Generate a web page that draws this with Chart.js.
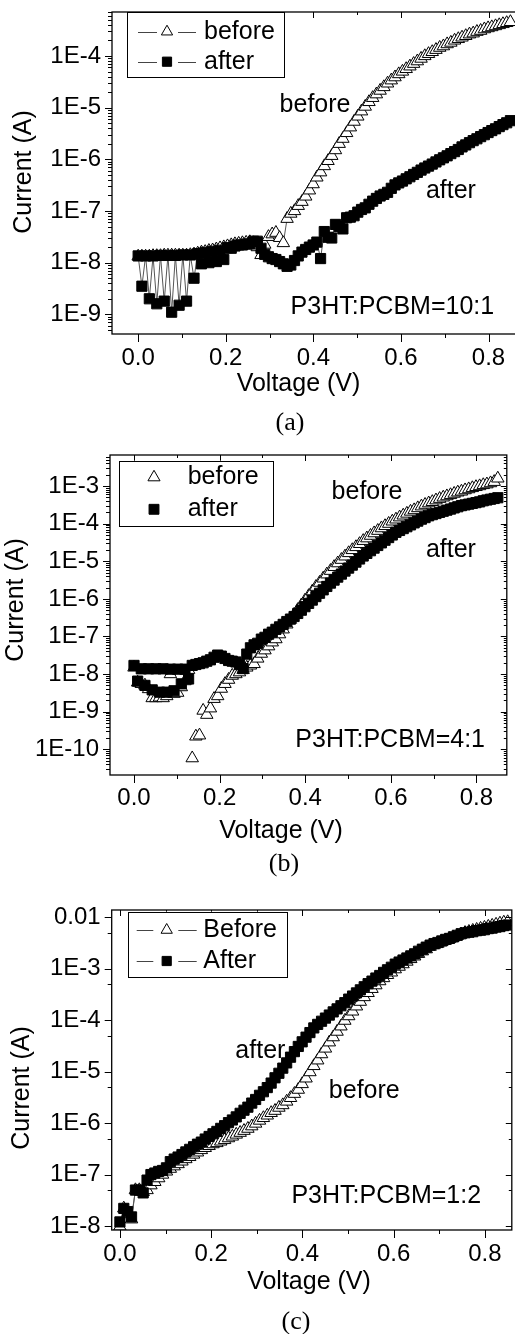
<!DOCTYPE html>
<html><head><meta charset="utf-8">
<script src="https://cdn.jsdelivr.net/npm/chart.js@4.4.1/dist/chart.umd.min.js"></script>
<style>
html,body{margin:0;padding:0;background:#fff;overflow:hidden;width:515px;height:1334px;}
#wrap{position:relative;width:515px;height:1334px;overflow:hidden;background:#fff;}
#wrap canvas{position:absolute;left:0;}
.cap{position:absolute;font-family:"Liberation Serif","Times New Roman",serif;font-size:26px;line-height:26px;color:#000;transform:translateX(-50%);white-space:nowrap;}
</style></head><body>
<div id="wrap">
<canvas id="ca" width="530" height="440" style="top:0px"></canvas>
<canvas id="cb" width="515" height="440" style="top:440px"></canvas>
<canvas id="cc" width="520" height="454" style="top:880px"></canvas>
<div class="cap" style="left:290px;top:409px">(a)</div>
<div class="cap" style="left:284px;top:850px">(b)</div>
<div class="cap" style="left:296px;top:1308px">(c)</div>
</div>
<script>
// ---------- data ----------
const voltage = [0,0.0085,0.017,0.0255,0.034,0.0425,0.051,0.0595,0.068,0.0765,
0.085,0.0935,0.102,0.1105,0.119,0.1275,0.136,0.1445,0.153,0.1615,
0.17,0.1785,0.187,0.1955,0.204,0.2125,0.221,0.2295,0.238,0.2465,
0.255,0.2635,0.272,0.2805,0.289,0.2975,0.306,0.3145,0.323,0.3315,
0.34,0.3485,0.357,0.3655,0.374,0.3825,0.391,0.3995,0.408,0.4165,
0.425,0.4335,0.442,0.4505,0.459,0.4675,0.476,0.4845,0.493,0.5015,
0.51,0.5185,0.527,0.5355,0.544,0.5525,0.561,0.5695,0.578,0.5865,
0.595,0.6035,0.612,0.6205,0.629,0.6375,0.646,0.6545,0.663,0.6715,
0.68,0.6885,0.697,0.7055,0.714,0.7225,0.731,0.7395,0.748,0.7565,
0.765,0.7735,0.782,0.7905,0.799,0.8075,0.816,0.8245,0.833,0.8415,
0.85];

// (a) P3HT:PCBM=10:1
const beforeA = [1.32e-8,1.32e-8,1.32e-8,1.32e-8,1.35e-8,1.35e-8,1.35e-8,1.38e-8,1.38e-8,1.38e-8,
1.38e-8,1.38e-8,1.38e-8,1.38e-8,1.41e-8,1.45e-8,1.51e-8,1.58e-8,1.62e-8,1.70e-8,
1.74e-8,1.82e-8,1.91e-8,2.00e-8,2.09e-8,2.19e-8,2.29e-8,2.34e-8,2.40e-8,2.45e-8,
2.51e-8,2.40e-8,2.00e-8,1.41e-8,2.24e-8,3.16e-8,3.55e-8,3.80e-8,3.02e-8,2.40e-8,
7.08e-8,8.91e-8,1.00e-7,1.26e-7,1.51e-7,1.91e-7,2.51e-7,3.31e-7,4.47e-7,5.62e-7,
7.41e-7,9.33e-7,1.17e-6,1.51e-6,2.00e-6,2.51e-6,3.24e-6,4.17e-6,5.37e-6,6.76e-6,
8.51e-6,1.05e-5,1.29e-5,1.55e-5,1.82e-5,2.14e-5,2.51e-5,2.95e-5,3.39e-5,3.89e-5,
4.47e-5,5.01e-5,5.62e-5,6.31e-5,7.08e-5,7.94e-5,8.91e-5,1.00e-4,1.10e-4,1.20e-4,
1.32e-4,1.45e-4,1.55e-4,1.70e-4,1.82e-4,2.00e-4,2.14e-4,2.29e-4,2.45e-4,2.63e-4,
2.75e-4,2.95e-4,3.09e-4,3.31e-4,3.47e-4,3.63e-4,3.80e-4,3.98e-4,4.17e-4,4.37e-4,
4.57e-4];
const afterA = [1.35e-8,3.5e-9,1.35e-8,2.0e-9,1.35e-8,1.6e-9,1.38e-8,1.8e-9,1.38e-8,1.1e-9,
1.38e-8,1.5e-9,1.41e-8,1.8e-9,1.41e-8,5.0e-9,1.5e-8,9.5e-9,1.58e-8,1.0e-8,
1.66e-8,1.05e-8,1.74e-8,1.15e-8,1.95e-8,1.9e-8,2.1e-8,2.2e-8,2.2e-8,2.3e-8,
2.3e-8,2.6e-8,2.6e-8,1.9e-8,1.45e-8,1.3e-8,1.2e-8,1.15e-8,1.05e-8,9.5e-9,
8.5e-9,9.0e-9,1.1e-8,1.35e-8,1.6e-8,1.8e-8,2.0e-8,2.2e-8,2.5e-8,1.2e-8,
4.0e-8,3.1e-8,3.0e-8,5.5e-8,5.0e-8,4.5e-8,7.4e-8,7.6e-8,8.1e-8,9.5e-8,
1.07e-7,1.15e-7,1.35e-7,1.55e-7,1.75e-7,1.95e-7,2.1e-7,2.3e-7,2.75e-7,3.2e-7,
3.5e-7,3.8e-7,4.2e-7,4.6e-7,5.1e-7,5.6e-7,6.2e-7,6.8e-7,7.4e-7,8.1e-7,
8.9e-7,9.8e-7,1.07e-6,1.17e-6,1.29e-6,1.41e-6,1.55e-6,1.74e-6,1.9e-6,2.1e-6,
2.3e-6,2.5e-6,2.75e-6,3.0e-6,3.3e-6,3.6e-6,3.9e-6,4.3e-6,4.7e-6,5.1e-6,
5.6e-6];

// (b) P3HT:PCBM=4:1
const beforeB = [1.5e-8,6.0e-9,5.5e-9,5.0e-9,4.0e-9,2.3e-9,2.3e-9,2.4e-9,2.3e-9,2.6e-9,
1.0e-8,3.0e-9,3.2e-9,4.5e-9,6.5e-9,1.3e-8,5.8e-11,2.2e-10,2.35e-10,1.07e-9,
8.3e-10,1.23e-9,2.2e-9,2.6e-9,4.1e-9,5.5e-9,7.1e-9,9.1e-9,1.0e-8,1.12e-8,
1.3e-8,1.5e-8,1.7e-8,1.86e-8,2.6e-8,3.5e-8,4.3e-8,5.5e-8,7.0e-8,8.5e-8,
1.15e-7,1.55e-7,2.1e-7,2.8e-7,3.8e-7,5.1e-7,6.8e-7,9.1e-7,1.2e-6,1.58e-6,
2.1e-6,2.7e-6,3.5e-6,4.5e-6,5.6e-6,7.1e-6,8.9e-6,1.1e-5,1.35e-5,1.66e-5,
2.0e-5,2.4e-5,2.9e-5,3.5e-5,4.1e-5,4.8e-5,5.6e-5,6.5e-5,7.6e-5,8.7e-5,
1.0e-4,1.15e-4,1.3e-4,1.48e-4,1.66e-4,1.86e-4,2.1e-4,2.3e-4,2.6e-4,2.9e-4,
3.2e-4,3.5e-4,3.8e-4,4.2e-4,4.6e-4,5.0e-4,5.4e-4,5.8e-4,6.3e-4,6.8e-4,
7.2e-4,7.8e-4,8.3e-4,8.9e-4,9.5e-4,1.0e-3,1.07e-3,1.12e-3,1.2e-3,1.3e-3,
1.6e-3];
const afterB = [1.7e-8,6.5e-9,1.38e-8,5.0e-9,1.38e-8,3.8e-9,1.38e-8,3.3e-9,1.38e-8,3.3e-9,
1.35e-8,3.6e-9,1.35e-8,5.5e-9,1.35e-8,7.4e-9,1.7e-8,1.8e-8,1.9e-8,2.0e-8,
2.2e-8,2.4e-8,2.8e-8,3.2e-8,3.0e-8,2.6e-8,2.3e-8,2.2e-8,2.1e-8,1.8e-8,
1.4e-8,3.4e-8,5.0e-8,6.0e-8,6.6e-8,8.5e-8,9.5e-8,1.15e-7,1.3e-7,1.55e-7,
1.8e-7,2.1e-7,2.5e-7,2.9e-7,3.4e-7,4.1e-7,5.0e-7,6.2e-7,7.6e-7,9.3e-7,
1.15e-6,1.41e-6,1.74e-6,2.14e-6,2.63e-6,3.16e-6,3.8e-6,4.57e-6,5.5e-6,6.6e-6,
7.9e-6,9.5e-6,1.15e-5,1.38e-5,1.62e-5,1.91e-5,2.24e-5,2.63e-5,3.09e-5,3.63e-5,
4.27e-5,5.0e-5,5.9e-5,6.6e-5,7.4e-5,8.3e-5,9.3e-5,1.05e-4,1.17e-4,1.32e-4,
1.45e-4,1.62e-4,1.74e-4,1.86e-4,2.0e-4,2.14e-4,2.29e-4,2.45e-4,2.63e-4,2.82e-4,
3.02e-4,3.16e-4,3.31e-4,3.47e-4,3.63e-4,3.8e-4,4.07e-4,4.27e-4,4.47e-4,4.68e-4,
4.9e-4];

// (c) P3HT:PCBM=1:2
const beforeC = [9.8e-9,2.2e-8,1.7e-8,1.35e-8,5.0e-8,5.0e-8,4.6e-8,5.0e-8,6.2e-8,7.2e-8,
8.5e-8,1.0e-7,1.15e-7,1.3e-7,1.45e-7,1.6e-7,1.8e-7,2.0e-7,2.2e-7,2.45e-7,
2.7e-7,3.0e-7,3.3e-7,3.6e-7,3.9e-7,4.1e-7,4.4e-7,4.7e-7,5.1e-7,5.5e-7,
6.0e-7,6.5e-7,7.1e-7,7.8e-7,8.7e-7,9.8e-7,1.12e-6,1.26e-6,1.41e-6,1.58e-6,
1.74e-6,2.0e-6,2.24e-6,2.63e-6,3.09e-6,3.72e-6,4.47e-6,5.75e-6,7.4e-6,9.8e-6,
1.29e-5,1.66e-5,2.19e-5,2.82e-5,3.72e-5,4.68e-5,6.0e-5,7.6e-5,9.8e-5,1.2e-4,
1.48e-4,1.86e-4,2.29e-4,2.82e-4,3.39e-4,4.07e-4,4.79e-4,5.75e-4,6.6e-4,7.6e-4,
8.5e-4,9.8e-4,1.1e-3,1.23e-3,1.38e-3,1.55e-3,1.74e-3,1.95e-3,2.19e-3,2.4e-3,
2.69e-3,2.88e-3,3.09e-3,3.31e-3,3.55e-3,3.8e-3,4.07e-3,4.37e-3,4.68e-3,5.0e-3,
5.25e-3,5.5e-3,5.75e-3,6.03e-3,6.3e-3,6.6e-3,6.9e-3,7.24e-3,7.6e-3,7.94e-3,
8.1e-3];
const afterC = [1.2e-8,2.2e-8,1.9e-8,1.5e-8,5.0e-8,5.0e-8,4.4e-8,7.8e-8,1.0e-7,1.07e-7,
1.15e-7,1.2e-7,1.35e-7,1.78e-7,2.0e-7,2.19e-7,2.45e-7,2.75e-7,3.09e-7,3.47e-7,
3.89e-7,4.27e-7,4.9e-7,5.5e-7,6.2e-7,6.9e-7,7.9e-7,8.9e-7,1.02e-6,1.15e-6,
1.32e-6,1.55e-6,1.78e-6,2.04e-6,2.45e-6,2.88e-6,3.47e-6,4.07e-6,4.9e-6,6.0e-6,
7.6e-6,9.3e-6,1.17e-5,1.48e-5,1.91e-5,2.45e-5,3.09e-5,3.8e-5,4.68e-5,5.75e-5,
7.08e-5,8.3e-5,9.55e-5,1.1e-4,1.26e-4,1.45e-4,1.66e-4,1.91e-4,2.19e-4,2.57e-4,
2.95e-4,3.39e-4,3.89e-4,4.47e-4,5.13e-4,5.75e-4,6.6e-4,7.4e-4,8.5e-4,9.55e-4,
1.07e-3,1.23e-3,1.35e-3,1.48e-3,1.62e-3,1.78e-3,1.95e-3,2.19e-3,2.4e-3,2.63e-3,
2.88e-3,3.09e-3,3.24e-3,3.47e-3,3.72e-3,3.89e-3,4.17e-3,4.47e-3,4.79e-3,5.0e-3,
5.13e-3,5.25e-3,5.5e-3,5.62e-3,5.75e-3,6.03e-3,6.17e-3,6.46e-3,6.6e-3,6.9e-3,
7.08e-3];

// ticks
const xTickValues = [0, 0.2, 0.4, 0.6, 0.8];
const xMinorValues = [0.1, 0.3, 0.5, 0.7];
const yTicksA = [1e-9, 1e-8, 1e-7, 1e-6, 1e-5, 1e-4];
const yLabelsA = ['1E-9', '1E-8', '1E-7', '1E-6', '1E-5', '1E-4'];
const yTicksB = [1e-10, 1e-9, 1e-8, 1e-7, 1e-6, 1e-5, 1e-4, 1e-3];
const yLabelsB = ['1E-10', '1E-9', '1E-8', '1E-7', '1E-6', '1E-5', '1E-4', '1E-3'];
const yTicksC = [1e-8, 1e-7, 1e-6, 1e-5, 1e-4, 1e-3, 1e-2];
const yLabelsC = ['1E-8', '1E-7', '1E-6', '1E-5', '1E-4', '1E-3', '0.01'];

// ---------- drawing ----------
const FONT = '"Liberation Sans", Arial, Helvetica, sans-serif';

function markerPath(ctx, style, x, y, r) {
  ctx.beginPath();
  if (style === 'triangle') {
    ctx.moveTo(x, y - r);
    ctx.lineTo(x + r * Math.cos(Math.PI / 6), y + r / 2);
    ctx.lineTo(x - r * Math.cos(Math.PI / 6), y + r / 2);
    ctx.closePath();
  } else {
    const s = Math.SQRT1_2 * r;
    ctx.rect(x - s, y - s, 2 * s, 2 * s);
  }
}

const decor = {
  id: 'decor',
  afterDraw(chart, args, o) {
    const ctx = chart.ctx, a = chart.chartArea, xs = chart.scales.x, ys = chart.scales.y;
    ctx.save();
    ctx.strokeStyle = '#000';
    ctx.lineWidth = 1;
    ctx.beginPath();
    const xt = xTickValues.map(v => ({v, major: true})).concat(xMinorValues.map(v => ({v, major: false})));
    xt.forEach(t => {
      const p = Math.round(xs.getPixelForValue(t.v)) + 0.5;
      const lb = t.major ? 8 : 4, lt = t.major ? 6 : 3;
      ctx.moveTo(p, a.bottom); ctx.lineTo(p, a.bottom + lb);
      ctx.moveTo(p, a.top); ctx.lineTo(p, a.top + lt);
    });
    const lo = Math.floor(Math.log10(ys.min)), hi = Math.ceil(Math.log10(ys.max));
    for (let d = lo; d <= hi; d++) {
      const mults = [1].concat(o.minorMult);
      mults.forEach(m => {
        const v = m * Math.pow(10, d);
        if (v < ys.min || v > ys.max) return;
        const p = Math.round(ys.getPixelForValue(v)) + 0.5;
        const major = m === 1;
        const ll = major ? 7 : 4, lr = major ? 6 : 3;
        ctx.moveTo(a.left, p); ctx.lineTo(a.left - ll, p);
        ctx.moveTo(a.right, p); ctx.lineTo(a.right - lr, p);
      });
    }
    ctx.stroke();
    ctx.lineWidth = 1.3;
    ctx.strokeRect(a.left, a.top, a.right - a.left, a.bottom - a.top);

    ctx.fillStyle = '#000';
    ctx.font = '25px ' + FONT;
    ctx.textAlign = 'center';
    ctx.textBaseline = 'alphabetic';
    ctx.fillText(o.xTitle.text, o.xTitle.x, o.xTitle.y);
    ctx.save();
    ctx.translate(o.yTitle.x, o.yTitle.y);
    ctx.rotate(-Math.PI / 2);
    ctx.textBaseline = 'middle';
    ctx.fillText(o.yTitle.text, 0, 0);
    ctx.restore();

    ctx.textAlign = 'left';
    ctx.textBaseline = 'middle';
    o.notes.forEach(n => {
      ctx.fillText(n.text, xs.getPixelForValue(n.x), ys.getPixelForValue(n.y));
    });

    const L = o.legend;
    ctx.fillStyle = '#fff';
    ctx.fillRect(L.box[0], L.box[1], L.box[2] - L.box[0], L.box[3] - L.box[1]);
    ctx.strokeStyle = '#000';
    ctx.lineWidth = 1;
    ctx.strokeRect(Math.round(L.box[0]) + 0.5, Math.round(L.box[1]) + 0.5,
      Math.round(L.box[2] - L.box[0]), Math.round(L.box[3] - L.box[1]));
    chart.data.datasets.forEach((ds, k) => {
      const y = L.rows[k];
      if (L.lines) {
        ctx.strokeStyle = '#444';
        ctx.lineWidth = 1;
        ctx.beginPath();
        L.lines.forEach(seg => { ctx.moveTo(seg[0], Math.round(y) + 0.5); ctx.lineTo(seg[1], Math.round(y) + 0.5); });
        ctx.stroke();
      }
      markerPath(ctx, ds.pointStyle, L.markerX, y, L.r);
      ctx.fillStyle = ds.pointBackgroundColor;
      ctx.fill();
      ctx.strokeStyle = '#000';
      ctx.lineWidth = 1;
      ctx.stroke();
      ctx.fillStyle = '#000';
      ctx.font = '25px ' + FONT;
      ctx.textAlign = 'left';
      ctx.textBaseline = 'middle';
      ctx.fillText(ds.label, L.textX, y);
    });
    ctx.restore();
  }
};

function makeChart(id, c) {
  const tickFont = {family: FONT, size: 24};
  return new Chart(document.getElementById(id), {
    type: 'scatter',
    data: {
      datasets: [
        {
          label: c.labels[0],
          data: voltage.map((v, i) => ({x: v, y: c.before[i]})),
          order: 2,
          showLine: c.lines,
          borderColor: '#555',
          borderWidth: 1,
          pointStyle: 'triangle',
          pointRadius: 7.2,
          pointBackgroundColor: '#ffffff',
          pointBorderColor: '#000000',
          pointBorderWidth: 1
        },
        {
          label: c.labels[1],
          data: voltage.map((v, i) => ({x: v, y: c.after[i]})),
          order: 1,
          showLine: c.lines,
          borderColor: '#555',
          borderWidth: 1,
          pointStyle: 'rect',
          pointRadius: 7.2,
          pointBackgroundColor: '#000000',
          pointBorderColor: '#000000',
          pointBorderWidth: 1
        }
      ]
    },
    options: {
      responsive: false,
      animation: false,
      devicePixelRatio: 1,
      events: [],
      elements: {line: {tension: 0}},
      layout: {padding: {top: c.padTop, right: c.padRight, left: 0, bottom: 0}},
      plugins: {
        legend: {display: false},
        tooltip: {enabled: false},
        decor: c.decor
      },
      scales: {
        x: {
          type: 'linear',
          min: c.xMin, max: c.xMax,
          grid: {display: false, drawTicks: false},
          border: {display: false},
          ticks: {
            autoSkip: false, maxRotation: 0, padding: c.xPad, color: '#000', font: tickFont,
            callback: v => Number(v).toFixed(1)
          },
          afterBuildTicks: s => { s.ticks = xTickValues.map(v => ({value: v})); },
          afterFit: s => { s.height = c.xHeight; s.paddingLeft = 0; s.paddingRight = 0; }
        },
        y: {
          type: 'logarithmic',
          min: c.yMin, max: c.yMax,
          grid: {display: false, drawTicks: false},
          border: {display: false},
          ticks: {
            autoSkip: false, padding: 11, color: '#000', font: tickFont,
            callback: v => { const k = c.yTicks.indexOf(v); return k >= 0 ? c.yLabels[k] : ''; }
          },
          afterBuildTicks: s => { s.ticks = c.yTicks.map(v => ({value: v})); },
          afterFit: s => { s.width = c.yWidth; s.paddingTop = 0; s.paddingBottom = 0; }
        }
      }
    },
    plugins: [decor]
  });
}

makeChart('ca', {
  labels: ['before', 'after'], before: beforeA, after: afterA, lines: true,
  padTop: 12, padRight: 3, xHeight: 106, yWidth: 112, xPad: 10,
  xMin: -0.05975, xMax: 0.876, yMin: 4.16e-10, yMax: 7.11e-4,
  yTicks: yTicksA, yLabels: yLabelsA,
  decor: {
    minorMult: [2, 3, 4, 5, 6, 7, 8, 9],
    xTitle: {text: 'Voltage (V)', x: 298.5, y: 391},
    yTitle: {text: 'Current (A)', x: 24.5, y: 172},
    notes: [
      {text: 'before', x: 0.323, y: 1.12e-5},
      {text: 'after', x: 0.657, y: 2.44e-7},
      {text: 'P3HT:PCBM=10:1', x: 0.348, y: 1.38e-9}
    ],
    legend: {box: [127, 12, 284, 77], rows: [31.7, 61.7], lines: [[138, 157], [178, 196]], markerX: 167, textX: 204, r: 6.5}
  }
});

makeChart('cb', {
  labels: ['before', 'after'], before: beforeB, after: afterB, lines: false,
  padTop: 15, padRight: 3.3, xHeight: 105, yWidth: 110, xPad: 9,
  xMin: -0.0561, xMax: 0.871, yMin: 2.07e-11, yMax: 6.71e-3,
  yTicks: yTicksB, yLabels: yLabelsB,
  decor: {
    minorMult: [2, 3, 4, 5, 6, 7, 8, 9],
    xTitle: {text: 'Voltage (V)', x: 281, y: 398},
    yTitle: {text: 'Current (A)', x: 16, y: 160},
    notes: [
      {text: 'before', x: 0.4616, y: 7.1e-4},
      {text: 'after', x: 0.682, y: 2.0e-5},
      {text: 'P3HT:PCBM=4:1', x: 0.377, y: 1.77e-10}
    ],
    legend: {box: [119.3, 20.7, 273.3, 86], rows: [37.3, 69.3], lines: null, markerX: 154, textX: 187.7, r: 7}
  }
});

makeChart('cc', {
  labels: ['Before', 'After'], before: beforeC, after: afterC, lines: true,
  padTop: 30, padRight: 4, xHeight: 104, yWidth: 111.7, xPad: 10,
  xMin: -0.018, xMax: 0.859, yMin: 8.36e-9, yMax: 1.387e-2,
  yTicks: yTicksC, yLabels: yLabelsC,
  decor: {
    minorMult: [5],
    xTitle: {text: 'Voltage (V)', x: 309, y: 409},
    yTitle: {text: 'Current (A)', x: 22.5, y: 208},
    notes: [
      {text: 'after', x: 0.253, y: 2.55e-5},
      {text: 'before', x: 0.458, y: 4.27e-6},
      {text: 'P3HT:PCBM=1:2', x: 0.376, y: 3.88e-8}
    ],
    legend: {box: [127.7, 31.7, 286.7, 96.7], rows: [50, 81], lines: [[136.7, 153.3], [178.3, 196.7]], markerX: 166.7, textX: 203.3, r: 6.5}
  }
});
</script>
</body></html>
